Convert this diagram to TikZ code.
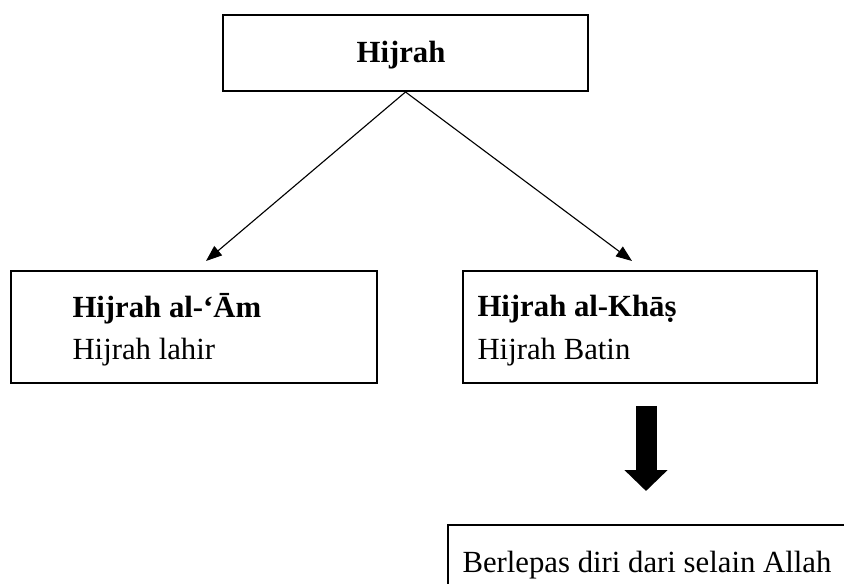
\documentclass[tikz,border=0pt]{standalone}
\usepackage{fontspec}
\setmainfont{Liberation Serif}
\usetikzlibrary{arrows.meta,fit}

\begin{document}
\begin{tikzpicture}[x=0.4pt,y=-0.4pt,
    box/.style={draw, line width=0.8pt, inner sep=0pt},
    txt/.style={inner sep=0pt, anchor=base west, font=\fontsize{12.3}{14}\selectfont},
    thinarrow/.style={-{Triangle[length=6.4pt,width=4.8pt]}, line width=0.45pt},
    bigarrow/.style={-{Triangle[length=8.4pt,width=16.8pt]}, line width=8.4pt}]
        \useasboundingbox (0,0) rectangle (844,584);                 %
        \clip (0,0) rectangle (844,584);                              %
        \node [box, fit={(223,15) (588,91)}]   (hijrah) {};           %Hijrah
        \node [box, fit={(11,271) (377,383)}]  (am)     {};           %al-Am
        \node [box, fit={(463,271) (817,383)}] (khas)   {};           %al-Khas
        \node [box, fit={(448,525) (900,640)}] (lepas)  {};           %Berlepas
        \node [txt, anchor=base] (thijrah) at (401,63) {\textbf{Hijrah}};
        \node [txt] (tam1)   at (72,318)  {\textbf{Hijrah al-‘Ām}};   %
        \node [txt] (tam2)   at (72,360)  {Hijrah lahir};             %
        \node [txt] (tkhas1) at (477,317) {\textbf{Hijrah al-Khāṣ}};  %
        \node [txt] (tkhas2) at (477,360) {Hijrah Batin};             %
        \node [txt] (tlepas) at (462,572) {Berlepas diri dari selain Allah};
        \coordinate (amtip)   at (206,261);                           %
        \coordinate (khastip) at (632,261);                           %
        \coordinate (bigfrom) at (646,406);                           %
        \coordinate (bigto)   at (646,491);                           %
        \draw [thinarrow] (hijrah.south) -- (amtip);                  %
        \draw [thinarrow] (hijrah.south) -- (khastip);                %
        \draw [bigarrow]  (bigfrom) -- (bigto);                       %
\end{tikzpicture}
\end{document}
